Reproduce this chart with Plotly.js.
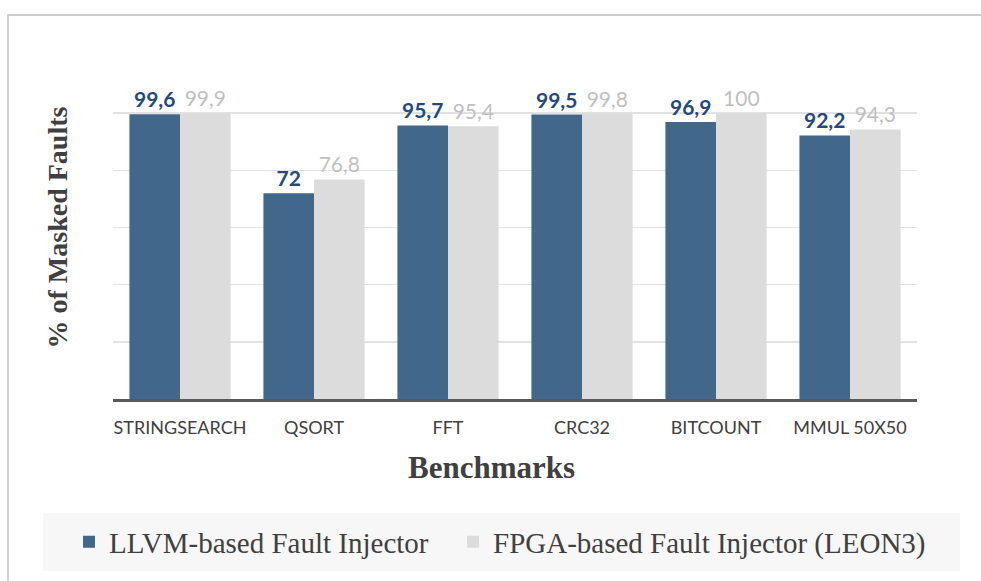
<!DOCTYPE html>
<html>
<head>
<meta charset="utf-8">
<script src="https://cdn.plot.ly/plotly-3.0.1.min.js"></script>
<style>
  html, body { margin: 0; padding: 0; background: #ffffff; overflow: hidden; }
  #wrap { position: relative; width: 981px; height: 581px; }
  #chart { position: absolute; left: 0; top: 0; width: 981px; height: 581px; }
  #frame { position: absolute; left: 7px; top: 14px; width: 1100px; height: 700px;
           border-left: 2px solid #cfcfcf; border-top: 2px solid #cfcfcf; pointer-events: none; }
</style>
</head>
<body>
<div id="wrap">
  <div id="chart"></div>
  <div id="frame"></div>
</div>
<script>
const categories = ["STRINGSEARCH", "QSORT", "FFT", "CRC32", "BITCOUNT", "MMUL 50X50"];
const llvmValues = [99.6, 72, 95.7, 99.5, 96.9, 92.2];
const fpgaValues = [99.9, 76.8, 95.4, 99.8, 100, 94.3];
const seriesNames = ["LLVM-based Fault Injector", "FPGA-based Fault Injector (LEON3)"];
const xTitle = "Benchmarks";
const yTitle = "% of Masked Faults";

const fmt = v => String(v).replace('.', ',');

const traces = [
  {
    type: 'bar', name: seriesNames[0], x: categories, y: llvmValues,
    marker: { color: '#41678b' }, legend: 'legend',
    text: llvmValues.map(fmt), textposition: 'outside', cliponaxis: false,
    textfont: { family: 'Lato', size: 21, color: '#24497a', weight: 'bold' },
    hoverinfo: 'none'
  },
  {
    type: 'bar', name: seriesNames[1], x: categories, y: fpgaValues,
    marker: { color: '#dcdcdc' }, legend: 'legend2',
    text: fpgaValues.map(fmt), textposition: 'outside', cliponaxis: false,
    textfont: { family: 'Lato', size: 21, color: '#bfbfbf' },
    hoverinfo: 'none'
  }
];

const plotH = 343, plotW = 804;
const legendFont = { family: 'Liberation Serif', size: 29, color: '#404040' };
const layout = {
  width: 981, height: 581,
  margin: { l: 113, r: 64, t: 56, b: 182, pad: 0 },
  paper_bgcolor: '#ffffff', plot_bgcolor: '#ffffff',
  barmode: 'group', bargap: 0.245, bargroupgap: 0,
  showlegend: true,
  font: { family: 'Lato', color: '#404040' },
  xaxis: {
    type: 'category', showgrid: false, zeroline: false,
    showline: true, linecolor: '#595959', linewidth: 2.5,
    ticks: '', ticklen: 0, ticklabelstandoff: 11,
    tickfont: { family: 'Lato', size: 18, color: '#404040' }
  },
  yaxis: {
    range: [0, 120], dtick: 20, showgrid: true, gridcolor: '#e2e2e2', gridwidth: 1.5,
    zeroline: false, showline: false, showticklabels: false, ticks: '',
    title: { text: yTitle, standoff: 36,
             font: { family: 'Liberation Serif', size: 28, color: '#404040', weight: 'bold' } }
  },
  annotations: [
    { text: '<b>' + xTitle + '</b>', xref: 'paper', yref: 'paper',
      x: (491 - 113) / plotW, y: (399 - 468) / plotH, xanchor: 'center', yanchor: 'middle',
      showarrow: false,
      font: { family: 'Liberation Serif', size: 31, color: '#404040' } }
  ],
  legend: {
    orientation: 'h', x: (69 - 113) / plotW, xanchor: 'left',
    y: (399 - 542) / plotH, yanchor: 'middle',
    bgcolor: 'rgba(0,0,0,0)', borderwidth: 0, font: legendFont
  },
  legend2: {
    orientation: 'h', x: (453 - 113) / plotW, xanchor: 'left',
    y: (399 - 542) / plotH, yanchor: 'middle',
    bgcolor: 'rgba(0,0,0,0)', borderwidth: 0, font: legendFont
  },
  shapes: [
    { type: 'rect', xref: 'paper', yref: 'paper', layer: 'below',
      x0: (43 - 113) / plotW, x1: (960 - 113) / plotW,
      y0: (399 - 571) / plotH, y1: (399 - 513) / plotH,
      fillcolor: '#f7f7f7', line: { width: 0 } }
  ]
};

Plotly.newPlot('chart', traces, layout, { displayModeBar: false, staticPlot: true });
</script>
</body>
</html>
